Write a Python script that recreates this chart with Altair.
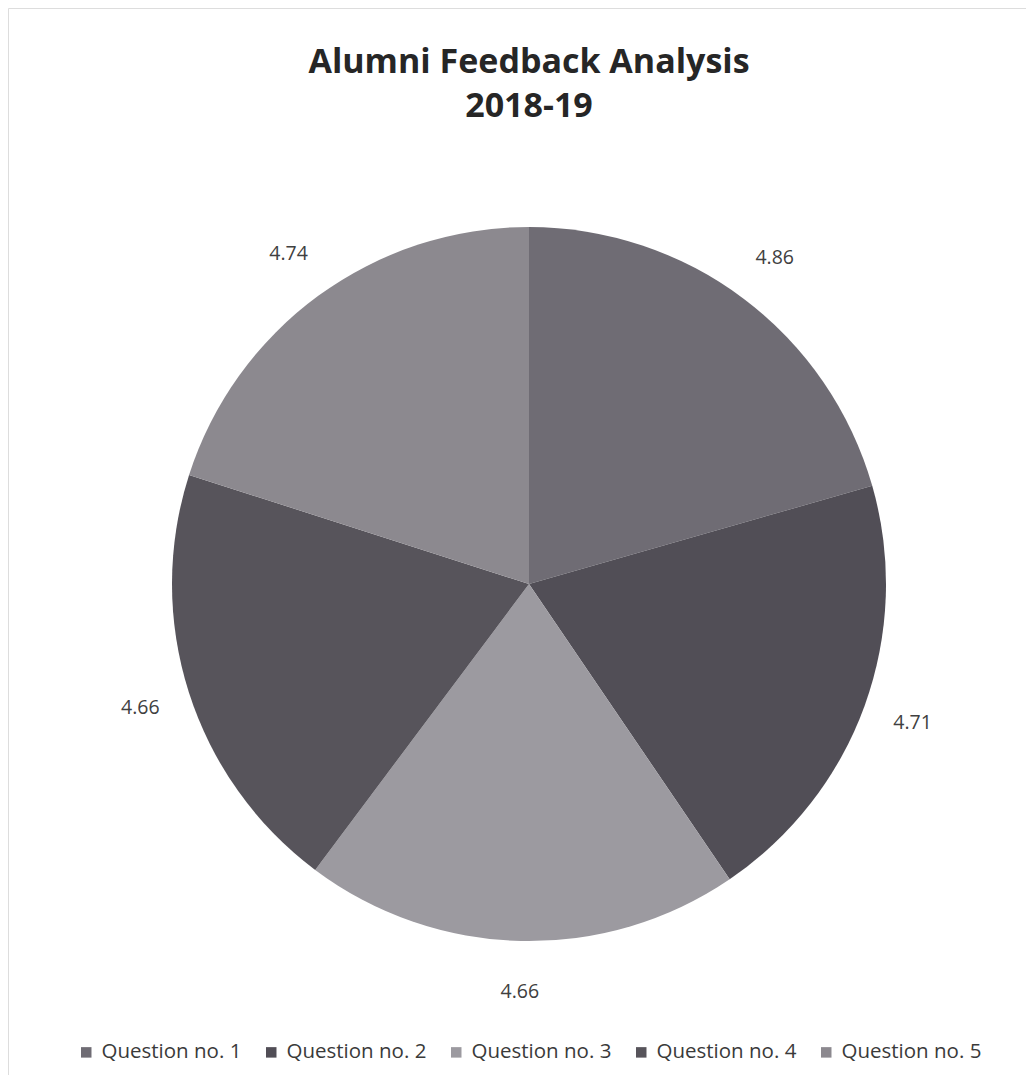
import altair as alt
import pandas as pd

questions = ["Question no. 1", "Question no. 2", "Question no. 3", "Question no. 4", "Question no. 5"]
scores = [4.86, 4.71, 4.66, 4.66, 4.74]
colors = ["#6f6c74", "#514e56", "#9c9aa0", "#57545b", "#8c898f"]
title_lines = ["Alumni Feedback Analysis", "2018-19"]

df = pd.DataFrame({"q": questions, "v": scores, "o": list(range(len(questions)))})
df["lab"] = df["v"].map(lambda x: f"{x:.2f}")

CX, CY, R = 521, 576, 357
W, H = 1018, 1067

base = alt.Chart(df).encode(
    theta=alt.Theta("v:Q", stack=True),
    order=alt.Order("o:Q"),
)

pie = base.mark_arc(outerRadius=R, stroke=None).encode(
    x=alt.value(CX), y=alt.value(CY),
    color=alt.Color("q:N", scale=alt.Scale(domain=questions, range=colors),
                    sort=questions,
                    legend=alt.Legend(title=None, orient="none", direction="horizontal",
                                      legendX=68, legendY=1034, symbolType="square",
                                      symbolSize=110, labelFontSize=20.5, labelFont="Open Sans",
                                      labelColor="#3a3a3a", columnPadding=19,
                                      symbolStrokeWidth=0, labelOffset=5)),
)

labels = base.mark_text(radius=408, font="Open Sans", fontSize=19.5, color="#404040").encode(
    x=alt.value(CX), y=alt.value(CY),
    text="lab:N",
)

tdf = pd.DataFrame({"t": title_lines, "i": [0, 1]})
title = alt.Chart(tdf).mark_text(font="Open Sans", fontSize=34, fontWeight="bold",
                                 color="#262626", align="center", baseline="middle").encode(
    x=alt.value(W / 2 + 12),
    y=alt.Y("i:Q", scale=alt.Scale(domain=[0, 1], range=[55, 99]), axis=None),
    text="t:N",
)

chart = alt.layer(pie, labels, title).properties(
    width=W, height=H,
    autosize=alt.AutoSizeParams(type="none"),
    padding=0,
).configure_view(stroke=None).configure(background="white")

chart.save("out.html", embed_options={"renderer": "svg", "actions": False})
